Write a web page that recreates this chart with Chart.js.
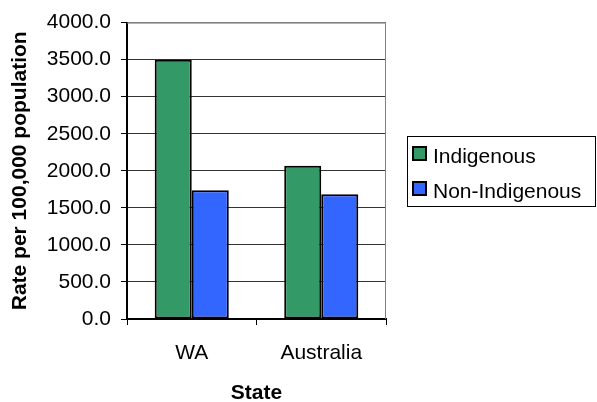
<!DOCTYPE html>
<html>
<head>
<meta charset="utf-8">
<title>Rate per 100,000 population by State</title>
<script src="https://cdn.jsdelivr.net/npm/chart.js@4.4.0/dist/chart.umd.js"></script>
<style>
  html, body { margin: 0; padding: 0; background: #fff; }
  #wrap { width: 597px; height: 402px; }
</style>
</head>
<body>
<div id="wrap"><canvas id="rateChart" width="597" height="402"></canvas></div>
<script>
// Dados do gráfico
const states = ['WA', 'Australia'];
const seriesNames = ['Indigenous', 'Non-Indigenous'];
const indigenousRates = [3500, 2067];
const nonIndigenousRates = [1739, 1685];
const seriesColors = ['#339966', '#3366FF'];

const FONT = 'Liberation Sans, Arial, Helvetica, sans-serif';

// Borda cinza em cima e à direita da área do gráfico
const plotBorder = {
    id: 'plotBorder',
    afterDraw(chart) {
        const { ctx, chartArea: a } = chart;
        ctx.save();
        ctx.strokeStyle = '#808080';
        ctx.lineWidth = 1;
        ctx.beginPath();
        ctx.moveTo(a.left, a.top + 0.5);
        ctx.lineTo(a.right - 0.5, a.top + 0.5);
        ctx.lineTo(a.right - 0.5, a.bottom);
        ctx.stroke();
        ctx.restore();
    }
};

// Legenda desenhada à direita, numa caixa
const boxLegend = {
    id: 'boxLegend',
    afterDraw(chart) {
        const { ctx, chartArea: a } = chart;
        const x = a.right + 21, y = 136, w = 188, h = 70;
        ctx.save();
        ctx.strokeStyle = '#000';
        ctx.lineWidth = 1;
        ctx.strokeRect(x + 0.5, y + 0.5, w, h);
        ctx.font = '21px ' + FONT;
        ctx.textBaseline = 'alphabetic';
        chart.data.datasets.forEach((ds, i) => {
            const rowY = y + 11 + i * 35;
            ctx.fillStyle = ds.backgroundColor;
            ctx.fillRect(x + 6, rowY, 13, 13);
            ctx.strokeStyle = '#000';
            ctx.lineWidth = 2;
            ctx.strokeRect(x + 6, rowY, 13, 13);
            ctx.fillStyle = '#000';
            ctx.fillText(ds.label, x + 26, rowY + 16);
        });
        ctx.restore();
    }
};

new Chart(document.getElementById('rateChart'), {
    type: 'bar',
    data: {
        labels: states,
        datasets: [
            {
                label: seriesNames[0],
                data: indigenousRates,
                backgroundColor: seriesColors[0],
                borderColor: '#000',
                borderWidth: 2,
                borderSkipped: false,
                barPercentage: 1,
                categoryPercentage: 0.572
            },
            {
                label: seriesNames[1],
                data: nonIndigenousRates,
                backgroundColor: seriesColors[1],
                borderColor: '#000',
                borderWidth: 2,
                borderSkipped: false,
                barPercentage: 1,
                categoryPercentage: 0.572
            }
        ]
    },
    options: {
        responsive: false,
        animation: false,
        devicePixelRatio: 1,
        layout: { padding: { left: 0, top: 22, right: 211, bottom: 0 } },
        plugins: {
            legend: { display: false },
            tooltip: { enabled: false }
        },
        scales: {
            x: {
                grid: {
                    offset: true,
                    drawOnChartArea: false,
                    drawTicks: true,
                    tickLength: 6,
                    tickColor: '#000',
                    tickWidth: 1
                },
                border: { color: '#000', width: 2 },
                ticks: { color: '#000', padding: 16, font: { family: FONT, size: 21 } },
                title: {
                    display: true,
                    text: 'State',
                    color: '#000',
                    font: { family: FONT, size: 21, weight: 'bold', lineHeight: 1 },
                    padding: { top: 0, bottom: -2 }
                },
                afterFit: s => { s.height = 83; }
            },
            y: {
                min: 0,
                max: 4000,
                ticks: {
                    stepSize: 500,
                    color: '#000',
                    padding: 10,
                    font: { family: FONT, size: 21 },
                    callback: v => Number(v).toFixed(1)
                },
                grid: {
                    color: ctx => (ctx.tick && ctx.tick.value === 4000 ? '#808080' : '#333'),
                    lineWidth: 1,
                    drawTicks: true,
                    tickLength: 6,
                    tickColor: '#000',
                    tickWidth: 1
                },
                border: { color: '#000', width: 2 },
                title: {
                    display: true,
                    text: 'Rate per 100,000 population',
                    color: '#000',
                    font: { family: FONT, size: 21, weight: 'bold' },
                    padding: { top: 8, bottom: 0 }
                },
                afterFit: s => { s.width = 127; }
            }
        }
    },
    plugins: [plotBorder, boxLegend]
});
</script>
</body>
</html>
